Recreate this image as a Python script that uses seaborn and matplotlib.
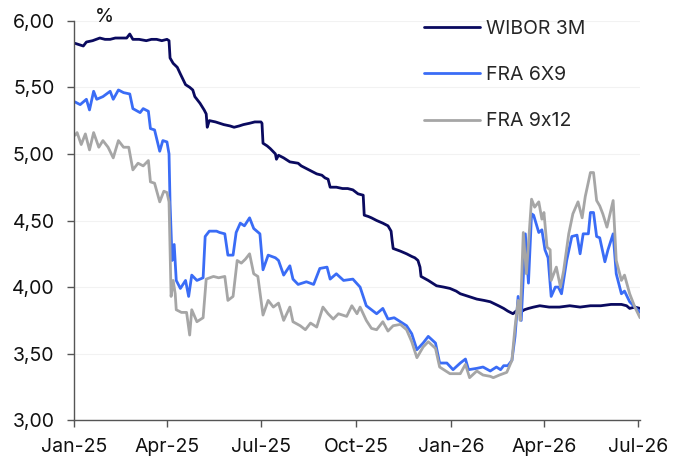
import pandas as pd
import seaborn as sns
import matplotlib.pyplot as plt
import matplotlib.dates as mdates
from matplotlib.ticker import FuncFormatter, MultipleLocator

# x values are days since 1 Jan 2025
start = pd.Timestamp("2025-01-01")

wibor_day = [1, 9, 12, 18, 25, 30, 35, 40, 45, 51,
             54, 57, 63, 70, 75, 80, 85, 90, 92, 93,
             96, 100, 103, 108, 112, 115, 117, 122, 126, 128,
             129, 131, 137, 145, 151, 155, 160, 164, 170, 175,
             181, 182, 183, 187, 190, 195, 196, 198, 203, 209,
             217, 220, 225, 230, 235, 240, 243, 246, 247, 248,
             254, 260, 265, 270, 275, 280, 281, 285, 288, 293,
             299, 304, 307, 308, 309, 316, 322, 327, 330, 333,
             335, 336, 343, 351, 358, 364, 370, 374, 382, 390,
             397, 403, 411, 416, 420, 425, 428, 432, 436, 440,
             445, 451, 460, 470, 480, 490, 500, 510, 520, 530,
             535, 538, 543, 548]
wibor_val = [5.83, 5.81, 5.84, 5.85, 5.87, 5.86, 5.86, 5.87, 5.87, 5.87,
             5.90, 5.86, 5.86, 5.85, 5.86, 5.86, 5.85, 5.86, 5.85, 5.72,
             5.68, 5.65, 5.60, 5.52, 5.50, 5.48, 5.43, 5.38, 5.33, 5.30,
             5.20, 5.25, 5.24, 5.22, 5.21, 5.20, 5.21, 5.22, 5.23, 5.24,
             5.24, 5.23, 5.08, 5.06, 5.04, 5.00, 4.96, 4.99, 4.97, 4.94,
             4.93, 4.91, 4.89, 4.87, 4.85, 4.84, 4.82, 4.81, 4.78, 4.75,
             4.75, 4.74, 4.74, 4.73, 4.70, 4.69, 4.54, 4.53, 4.52, 4.50,
             4.48, 4.46, 4.42, 4.35, 4.29, 4.27, 4.25, 4.23, 4.22, 4.20,
             4.15, 4.08, 4.05, 4.01, 4.00, 3.99, 3.97, 3.95, 3.93, 3.91,
             3.90, 3.89, 3.86, 3.84, 3.82, 3.80, 3.82, 3.81, 3.83, 3.84,
             3.85, 3.86, 3.85, 3.85, 3.86, 3.85, 3.86, 3.86, 3.87, 3.87,
             3.86, 3.84, 3.85, 3.84]

fra69_day = [1, 6, 12, 15, 19, 22, 28, 35, 38, 43,
             48, 54, 57, 64, 67, 72, 74, 78, 83, 86,
             90, 92, 93, 95, 97, 99, 103, 108, 111, 114,
             119, 125, 127, 131, 138, 141, 146, 149, 154, 157,
             161, 165, 170, 174, 180, 183, 188, 195, 198, 203,
             209, 212, 217, 225, 232, 238, 245, 248, 254, 261,
             270, 277, 283, 288, 293, 299, 304, 310, 316, 322,
             327, 332, 338, 343, 350, 354, 361, 367, 374, 379,
             382, 390, 396, 403, 409, 413, 416, 420, 424, 427,
             430, 433, 437, 440, 443, 445, 450, 453, 456, 459,
             462, 466, 469, 472, 477, 482, 487, 490, 493, 498,
             500, 503, 506, 509, 514, 517, 522, 525, 530, 533,
             538, 543, 548]
fra69_val = [5.39, 5.37, 5.41, 5.33, 5.47, 5.41, 5.43, 5.47, 5.41, 5.48,
             5.46, 5.45, 5.34, 5.31, 5.34, 5.32, 5.19, 5.18, 5.02, 5.10,
             5.09, 5.00, 4.63, 4.20, 4.32, 4.05, 3.99, 4.05, 3.93, 4.09,
             4.05, 4.07, 4.38, 4.42, 4.42, 4.41, 4.40, 4.24, 4.24, 4.41,
             4.48, 4.46, 4.52, 4.44, 4.40, 4.13, 4.24, 4.22, 4.20, 4.09,
             4.16, 4.06, 4.02, 4.04, 4.02, 4.14, 4.15, 4.06, 4.10, 4.05,
             4.06, 4.00, 3.86, 3.83, 3.80, 3.84, 3.76, 3.77, 3.74, 3.71,
             3.65, 3.53, 3.58, 3.63, 3.58, 3.43, 3.43, 3.38, 3.43, 3.46,
             3.38, 3.39, 3.40, 3.37, 3.40, 3.38, 3.41, 3.41, 3.45, 3.63,
             3.93, 3.75, 4.40, 4.03, 4.55, 4.54, 4.41, 4.43, 4.28, 4.22,
             3.93, 4.00, 4.00, 3.95, 4.20, 4.38, 4.39, 4.25, 4.40, 4.40,
             4.56, 4.56, 4.38, 4.37, 4.19, 4.28, 4.40, 4.10, 3.95, 3.97,
             3.89, 3.85, 3.81]

fra912_day = [1, 3, 7, 11, 15, 19, 24, 28, 33, 38,
              43, 48, 53, 57, 62, 67, 72, 74, 78, 83,
              87, 90, 92, 94, 96, 98, 99, 104, 109, 112,
              114, 119, 125, 128, 135, 140, 146, 149, 154, 158,
              162, 166, 170, 174, 178, 183, 188, 193, 198, 203,
              209, 212, 219, 224, 229, 235, 241, 246, 251, 256,
              264, 269, 274, 277, 283, 288, 293, 299, 304, 309,
              316, 322, 327, 332, 338, 343, 350, 354, 364, 374,
              379, 383, 390, 396, 403, 406, 412, 419, 424, 427,
              430, 432, 435, 438, 443, 446, 450, 453, 455, 458,
              461, 462, 467, 471, 474, 479, 483, 488, 492, 495,
              500, 503, 506, 509, 512, 516, 519, 522, 525, 530,
              533, 538, 543, 548]
fra912_val = [5.14, 5.16, 5.07, 5.15, 5.03, 5.16, 5.05, 5.10, 5.05, 4.97,
              5.10, 5.05, 5.05, 4.88, 4.93, 4.91, 4.95, 4.79, 4.78, 4.64,
              4.72, 4.71, 4.64, 3.93, 4.05, 3.95, 3.83, 3.81, 3.81, 3.64,
              3.83, 3.74, 3.77, 4.06, 4.08, 4.07, 4.08, 3.90, 3.93, 4.20,
              4.18, 4.21, 4.25, 4.10, 4.08, 3.79, 3.90, 3.85, 3.88, 3.75,
              3.85, 3.74, 3.71, 3.68, 3.73, 3.70, 3.85, 3.80, 3.76, 3.80,
              3.78, 3.86, 3.80, 3.85, 3.75, 3.69, 3.68, 3.74, 3.67, 3.71,
              3.72, 3.68, 3.59, 3.47, 3.55, 3.59, 3.54, 3.40, 3.35, 3.35,
              3.42, 3.32, 3.37, 3.34, 3.33, 3.32, 3.34, 3.36, 3.45, 3.70,
              3.90, 3.75, 4.41, 4.10, 4.66, 4.60, 4.64, 4.51, 4.56, 4.30,
              4.28, 4.05, 4.15, 4.00, 4.12, 4.40, 4.55, 4.64, 4.52, 4.68,
              4.86, 4.86, 4.65, 4.61, 4.55, 4.45, 4.55, 4.65, 4.20, 4.05,
              4.09, 3.95, 3.85, 3.77]

series_names = ["WIBOR 3M", "FRA 6X9", "FRA 9x12"]
series_colors = ["#0a0a5f", "#3a6cf6", "#a6a6a6"]

frames = []
for name, days, vals in zip(series_names,
                            [wibor_day, fra69_day, fra912_day],
                            [wibor_val, fra69_val, fra912_val]):
    frames.append(pd.DataFrame({
        "date": start + pd.to_timedelta(days, unit="D"),
        "rate": vals,
        "series": name,
    }))
df = pd.concat(frames, ignore_index=True)

sns.set_style("ticks")
plt.rcParams["font.family"] = ["Inter", "DejaVu Sans"]

fig = plt.figure(figsize=(6.88, 4.63), dpi=100)
ax = fig.add_axes([74 / 688, 1 - 420.3 / 463, 566 / 688, 399.6 / 463])

sns.lineplot(data=df, x="date", y="rate", hue="series", hue_order=series_names,
             palette=series_colors, estimator=None, linewidth=2.0, ax=ax)

ax.set_xlim(pd.Timestamp("2025-01-01"), pd.Timestamp("2026-07-03"))
ax.set_ylim(3, 6)
ax.yaxis.set_major_locator(MultipleLocator(0.5))
ax.yaxis.set_major_formatter(FuncFormatter(lambda v, p: f"{v:.2f}".replace(".", ",")))
ax.xaxis.set_major_locator(mdates.MonthLocator(bymonth=[1, 4, 7, 10]))
ax.xaxis.set_major_formatter(mdates.DateFormatter("%b-%y"))
ax.set_xlabel("")
ax.set_ylabel("")

ax.yaxis.grid(True, color="#f2f2f2", linewidth=0.8)
ax.set_axisbelow(True)
for s in ["top", "right"]:
    ax.spines[s].set_visible(False)
for s in ["left", "bottom"]:
    ax.spines[s].set_color("#555555")
    ax.spines[s].set_linewidth(1)
ax.tick_params(axis="both", direction="out", length=5, width=1, color="#555555",
               labelsize=14, labelcolor="#111111")
ax.tick_params(axis="y", pad=9)
ax.tick_params(axis="x", pad=8)

fig.text(95 / 688, 1 - 17 / 463, "%", fontsize=14, color="#111111", va="center")

handles, labels = ax.get_legend_handles_labels()
ax.legend(handles, labels, loc="upper left", bbox_to_anchor=(424 / 688, 1 - 20 / 463),
          bbox_transform=fig.transFigure, frameon=False, fontsize=14,
          handlelength=2.9, handletextpad=0.3, labelspacing=1.45,
          borderpad=0, borderaxespad=0)

fig.savefig("out.png", dpi=100)
